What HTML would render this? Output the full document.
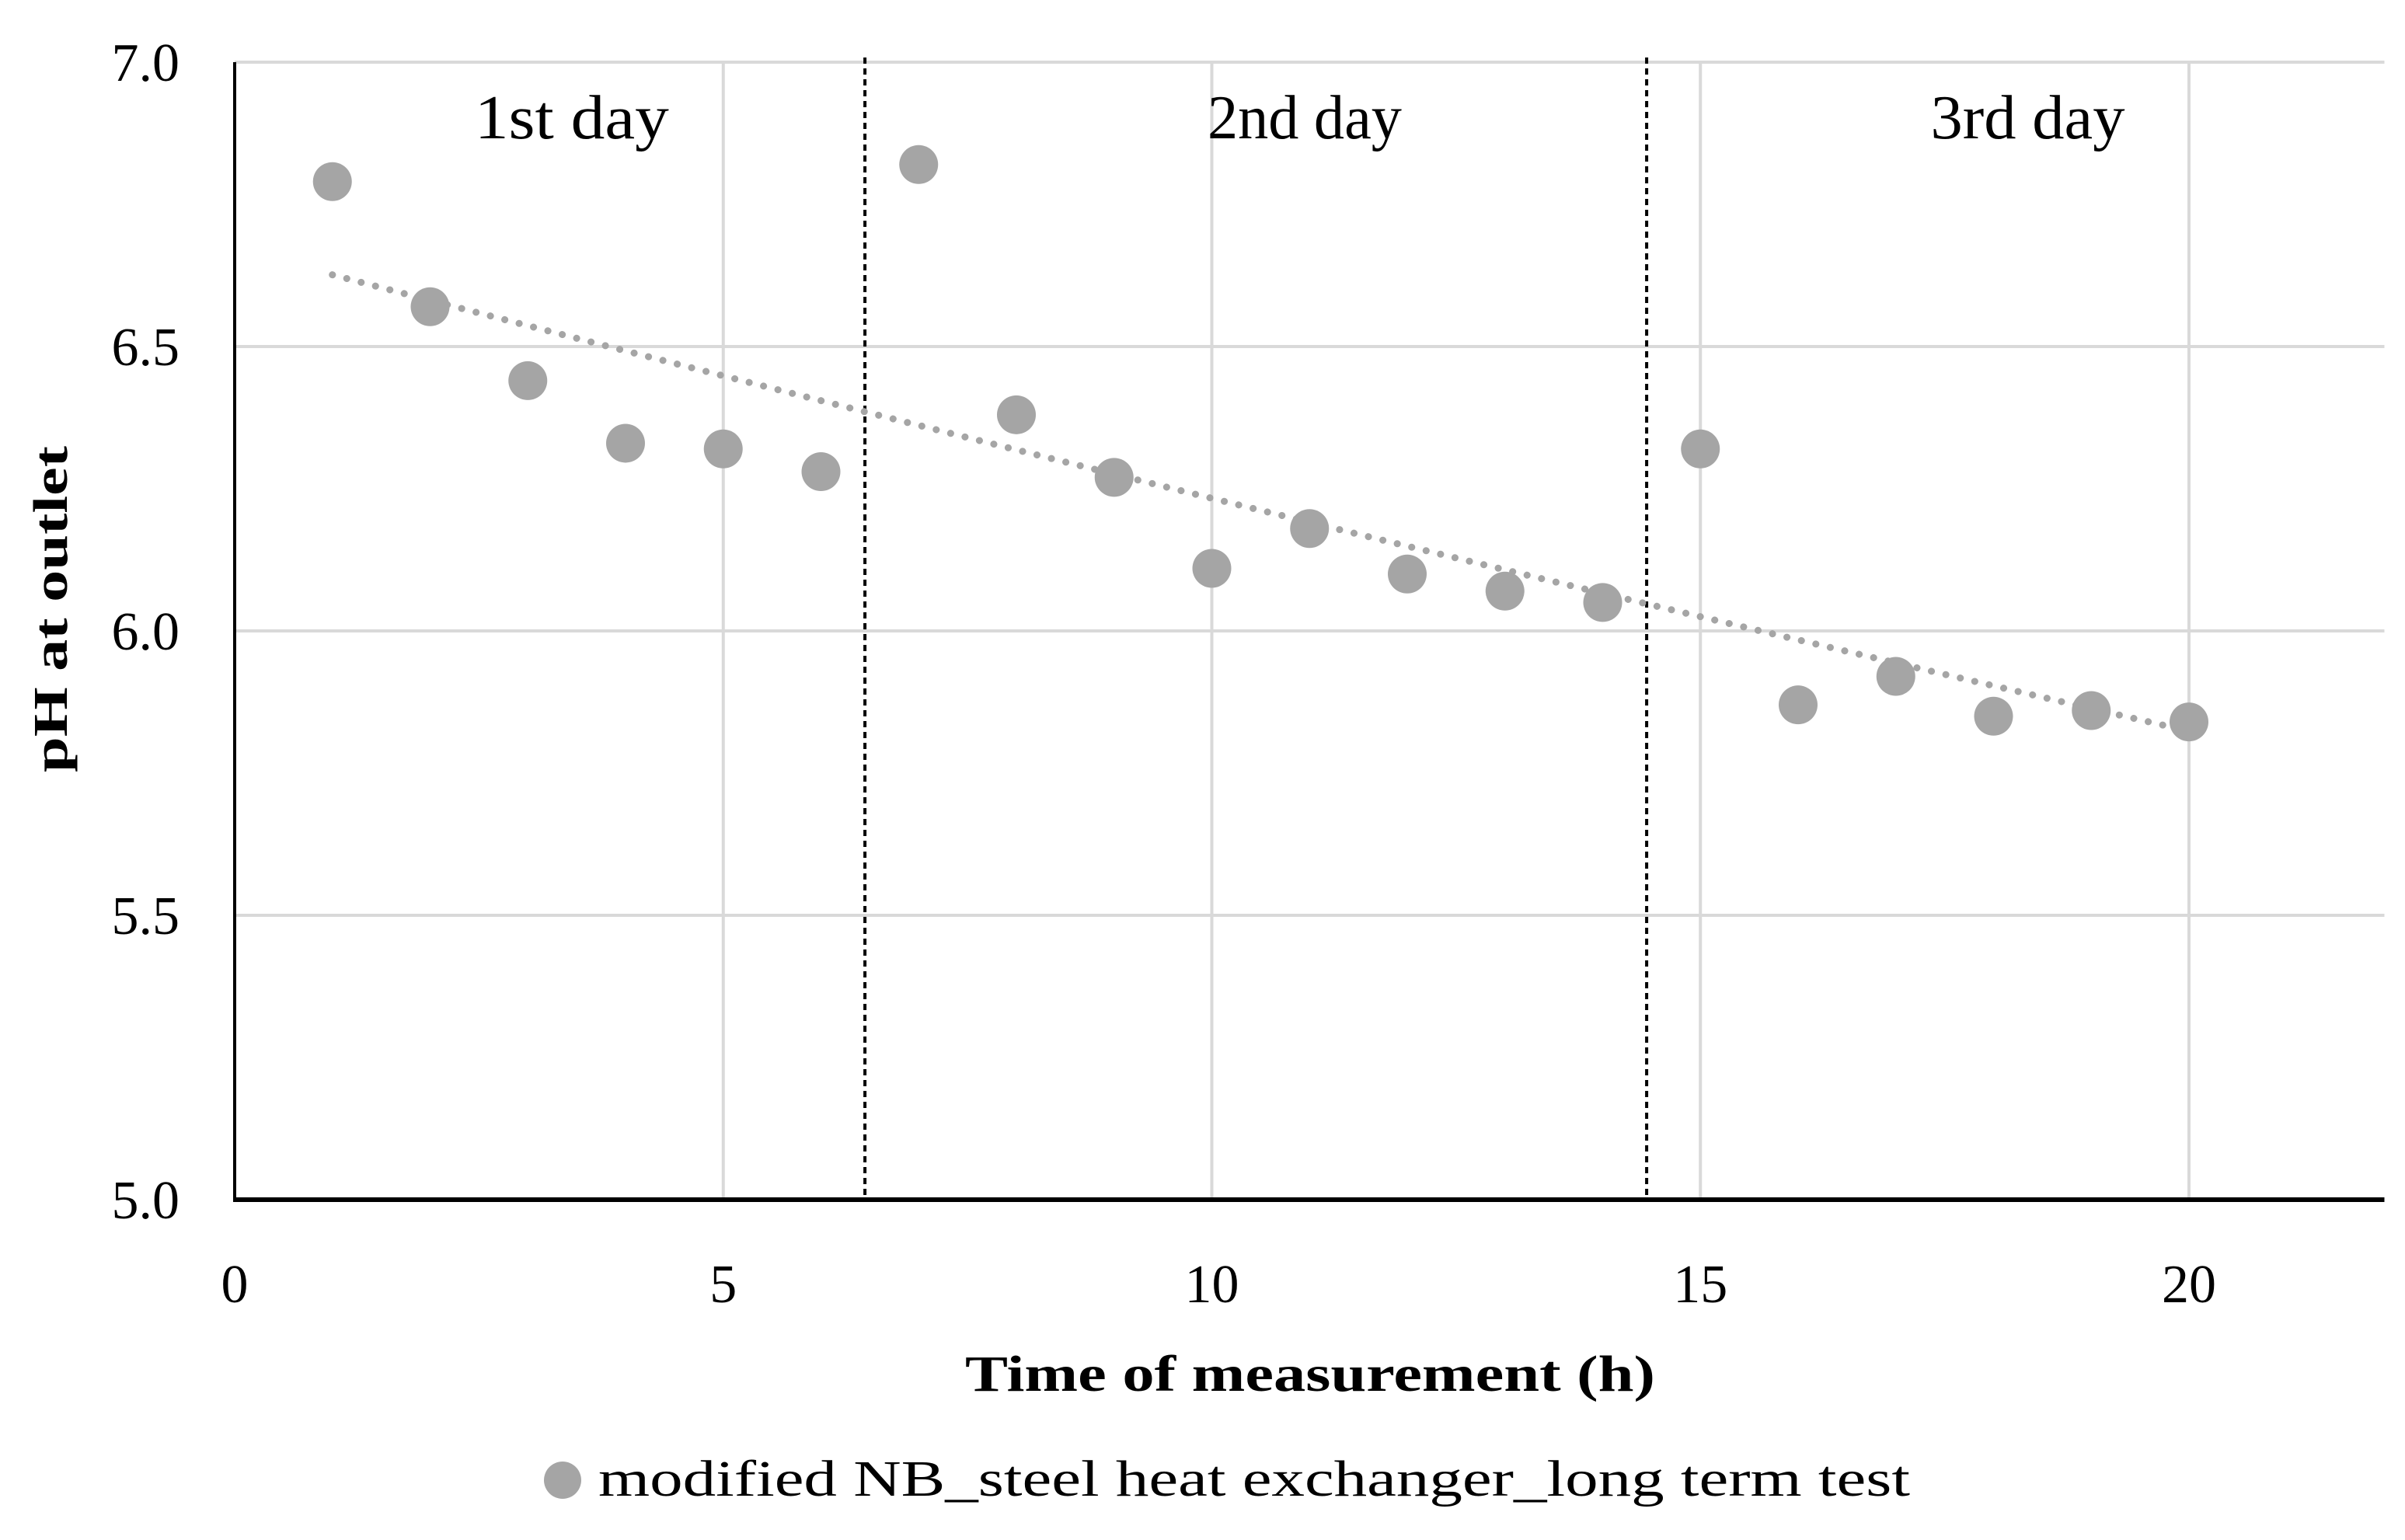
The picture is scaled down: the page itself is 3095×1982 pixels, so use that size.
<!DOCTYPE html>
<html><head><meta charset="utf-8"><style>
html,body{margin:0;padding:0;background:#fff;}
svg{display:block;}
text{font-family:"Liberation Serif",serif;}
</style></head><body>
<svg id="chart" width="3095" height="1982" viewBox="0 0 3095 1982" xmlns="http://www.w3.org/2000/svg">
<g id="grid"></g>
<g id="dividers"></g>
<g id="trend"></g>
<g id="points"></g>
<g id="axes"></g>
<g id="labels"></g>
<text transform="translate(86,784) rotate(-90)" text-anchor="middle" font-size="62" font-weight="bold" textLength="420" lengthAdjust="spacingAndGlyphs">pH at outlet</text>
<text x="1686" y="1790" text-anchor="middle" font-size="66" font-weight="bold" textLength="888" lengthAdjust="spacingAndGlyphs">Time of measurement (h)</text>
<g>
<circle cx="724" cy="1905" r="24" fill="#a5a5a5"/>
<text x="770" y="1925" font-size="66" textLength="1688" lengthAdjust="spacingAndGlyphs">modified NB_steel heat exchanger_long term test</text>
</g>
</svg>
<script>
const xs = [1,2,3,4,5,6,7,8,9,10,11,12,13,14,15,16,17,18,19,20];
const phValues = [6.79,6.57,6.44,6.33,6.32,6.28,6.82,6.38,6.27,6.11,6.18,6.10,6.07,6.05,6.32,5.87,5.92,5.85,5.86,5.84];
const xTicks = [0,5,10,15,20];
const yTicks = [5.0,5.5,6.0,6.5,7.0];
const dayDividers = [6.45,14.45];
const dayLabels = ["1st day","2nd day","3rd day"];
const dayLabelX = [3.45,10.95,18.35];

const NS="http://www.w3.org/2000/svg";
const X0=302, XS=125.75, Y7=80, YS=732;
function sx(v){return X0+v*XS;}
function sy(v){return Y7+(7-v)*YS;}
function mk(tag,attrs,parent,txt){const e=document.createElementNS(NS,tag);for(const k in attrs)e.setAttribute(k,attrs[k]);if(txt!==undefined)e.textContent=txt;parent.appendChild(e);return e;}
const G=id=>document.getElementById(id);
const xMax=22;
yTicks.forEach(t=>{
  if(t>5){const l=mk('line',{x1:X0,x2:sx(xMax),y1:sy(t),y2:sy(t),stroke:'#d9d9d9','stroke-width':4},G('grid'));
  
  }
  const tx=mk('text',{x:231,y:sy(t)+24,'text-anchor':'end','font-size':70},G('labels'),t.toFixed(1));
  
  
});
xTicks.forEach(t=>{
  if(t>0){const l=mk('line',{x1:sx(t),x2:sx(t),y1:sy(7),y2:sy(5),stroke:'#d9d9d9','stroke-width':4},G('grid'));
  
  }
  const tx=mk('text',{x:sx(t),y:1676,'text-anchor':'middle','font-size':70},G('labels'),String(t));
  
  
});
dayDividers.forEach(d=>{
  const l=mk('line',{x1:sx(d),x2:sx(d),y1:sy(7)-6,y2:sy(5),stroke:'#000','stroke-width':4,'stroke-dasharray':'8 6'},G('dividers'));
  
  
});
dayLabels.forEach((s,i)=>{
  const tx=mk('text',{x:sx(dayLabelX[i]),y:178,'text-anchor':'middle','font-size':80,textLength:250,lengthAdjust:'spacingAndGlyphs'},G('labels'),s);
  
  
});
const n=xs.length;let sX=0,sY=0,sXX=0,sXY=0;
for(let i=0;i<n;i++){const ly=Math.log(phValues[i]);sX+=xs[i];sY+=ly;sXX+=xs[i]*xs[i];sXY+=xs[i]*ly;}
const b=(n*sXY-sX*sY)/(n*sXX-sX*sX), a=(sY-b*sX)/n;
const x1=xs[0],x2=xs[n-1];let pts=[];
for(let k=0;k<=100;k++){const x=x1+(x2-x1)*k/100;pts.push(sx(x)+','+sy(Math.exp(a+b*x)));}
const tl=mk('polyline',{points:pts.join(' '),fill:'none',stroke:'#a5a5a5','stroke-width':9,'stroke-dasharray':'0.1 19','stroke-linecap':'round'},G('trend'));


xs.forEach((x,i)=>{
  const c=mk('circle',{cx:sx(x),cy:sy(phValues[i]),r:25,fill:'#a5a5a5'},G('points'));
  
  
});
const ya=mk('line',{x1:X0,x2:X0,y1:sy(7),y2:sy(5)+3,stroke:'#000','stroke-width':4},G('axes'));


const xa=mk('line',{x1:X0,x2:sx(xMax),y1:sy(5),y2:sy(5),stroke:'#000','stroke-width':6},G('axes'));


</script>
</body></html>
